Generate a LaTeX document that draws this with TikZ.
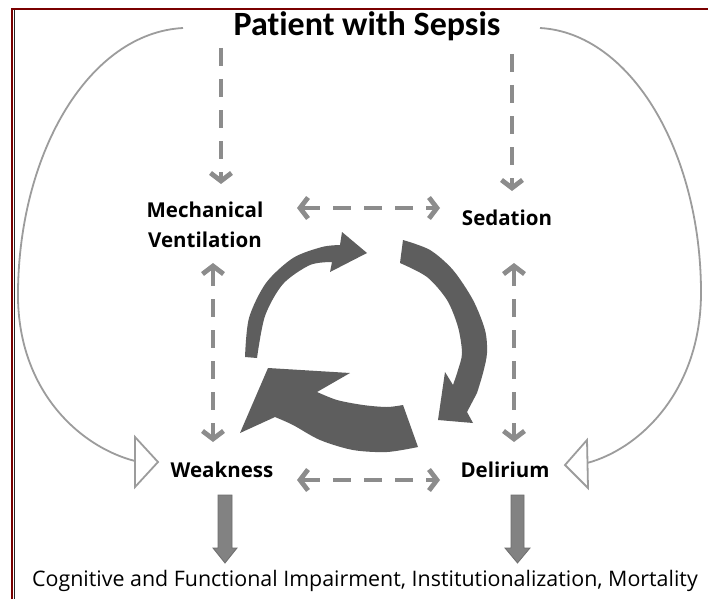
\documentclass[tikz,border=0pt]{standalone}
\usepackage{fontspec}
\setmainfont{Open Sans}
\newfontfamily\titlefont[Ligatures=NoCommon]{Carlito}
\usetikzlibrary{arrows.meta}
\definecolor{cyc}{HTML}{5E5E5E}
\definecolor{dgray}{HTML}{8C8C8C}
\definecolor{curvegray}{HTML}{9C9C9C}
\definecolor{thickgray}{HTML}{828282}
\definecolor{framered}{HTML}{7A0000}
\tikzset{
  lbl/.style={inner sep=0pt, font=\fontsize{20.5}{24}\selectfont\bfseries, anchor=base},
  dasharrow/.style={draw=dgray, line width=4.8pt, dash pattern=on 18pt off 13pt},
  dtip/.style={-{Straight Barb[length=8pt,width=21pt]}},
  ddtip/.style={{Straight Barb[length=8pt,width=21pt]}-{Straight Barb[length=8pt,width=21pt]}},
  thinc/.style={draw=curvegray, line width=1.8pt},
  openhead/.style={draw=curvegray, line width=1.8pt, fill=white, line join=miter},
  fatarrow/.style={fill=thickgray, draw=thickgray!85!black, line width=0.8pt},
}
\begin{document}
\begin{tikzpicture}[x=1pt,y=-1pt]
\useasboundingbox (0,0) rectangle (708,599);
\clip (0,0) rectangle (708,599);
\fill[white] (0,0) rectangle (708,599);
% frame
\draw[framered, line width=2.5pt] (12,599) -- (12,9) -- (708,9);
\draw[black!85, line width=1.2pt] (14.2,10.3) -- (14.2,599);

% text nodes
\node[inner sep=0pt, anchor=base, font=\titlefont\fontsize{34}{40}\selectfont\bfseries] (sepsis) at (367,36) {Patient with Sepsis};
\node[lbl] (mech) at (205,217) {Mechanical};
\node[lbl] (vent) at (205,247) {Ventilation};
\node[lbl] (sed) at (507,225) {Sedation};
\node[lbl] (weak) at (222,477) {Weakness};
\node[lbl] (del) at (505,477) {Delirium};
\node[inner sep=0pt, anchor=base west, font=\fontsize{21.4}{25}\selectfont] (outcome) at (32,586) {Cognitive and Functional Impairment, Institutionalization, Mortality};

% coordinates for connectors
\coordinate (sL) at (221,48);
\coordinate (mvT) at (221,184);
\coordinate (sR) at (512,54);
\coordinate (sedT) at (512,191);
\coordinate (mvR) at (297,208);
\coordinate (sedL) at (440,208);
\coordinate (mvB) at (213,263);
\coordinate (wkT) at (213,442);
\coordinate (sedB) at (514,263);
\coordinate (dlT) at (514,442);
\coordinate (wkR) at (297,480);
\coordinate (dlL) at (440,480);

% dashed arrows
\draw[dasharrow, dtip] (sL) -- (mvT);
\draw[dasharrow, dtip] (sR) -- (sedT);
\draw[dasharrow, ddtip] (mvR) -- (sedL);
\draw[dasharrow, ddtip] (mvB) -- (wkT);
\draw[dasharrow, ddtip] (sedB) -- (dlT);
\draw[dasharrow, ddtip] (wkR) -- (dlL);

% long thin curves with open triangle heads
\coordinate (cLs) at (183,28);
\coordinate (cLe) at (135,461);
\coordinate (cRs) at (540,28);
\coordinate (cRe) at (587,463);
\draw[thinc] (cLs) .. controls (90,33) and (20,150) .. (18,290) .. controls (16,390) and (80,447) .. (cLe);
\draw[thinc] (cRs) .. controls (630,33) and (700,150) .. (701,290) .. controls (702,390) and (640,449) .. (cRe);
\draw[openhead] (135,437) -- (158,462) -- (135,487) -- cycle;
\draw[openhead] (587,440) -- (565,465) -- (588,488) -- cycle;

% thick down arrows
\draw[fatarrow] (218,495) -- (232,495) -- (232,548) -- (237,548) -- (225,563) -- (213,548) -- (218,548) -- cycle;
\draw[fatarrow] (511,495) -- (524,495) -- (524,548) -- (530,548) -- (517.5,563) -- (505,548) -- (511,548) -- cycle;

% circular arrows
\fill[cyc] (245,357) -- plot[smooth] coordinates {(245,357) (249,318) (266,283) (293,258) (322,247) (340,245)} -- (342,232) -- (367,253) -- (330,272) -- (332,262) -- plot[smooth] coordinates {(332,262) (310,265) (283,284) (265,316) (257,358)} -- cycle;
\fill[cyc] (403,240) -- plot[smooth] coordinates {(403,240) (430,250) (453,270) (473,300) (485,330) (487,353) (483,373) (477,393)} -- (467,412) -- (473,423) -- (438,420) -- (445,372) -- (453,385) -- plot[smooth] coordinates {(453,385) (458,370) (462,353) (458,327) (447,300) (427,277) (400,263)} -- cycle;
\fill[cyc] (403,405) -- plot[smooth] coordinates {(403,405) (387,407) (363,405) (337,400) (317,392)} -- (350,373) -- (268,368) -- (240,433) -- (275,417) -- plot[smooth] coordinates {(275,417) (293,425) (320,440) (353,450) (387,452) (418,447)} -- cycle;
\end{tikzpicture}
\end{document}
